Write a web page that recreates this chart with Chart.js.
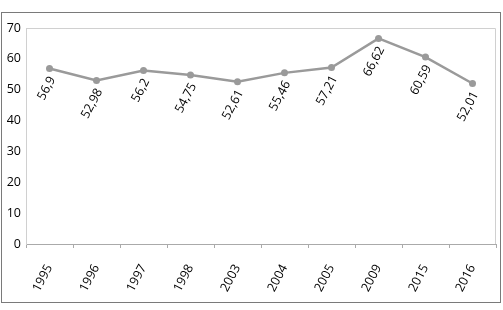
<!DOCTYPE html>
<html><head><meta charset="utf-8">
<script src="https://cdn.jsdelivr.net/npm/chart.js@4"></script>
<style>
html,body{margin:0;padding:0;background:#fff;}
#box{position:absolute;left:1px;top:12px;width:498px;height:289px;border:1px solid #7a7a7a;}
canvas{display:block;}
</style></head><body>
<div id="box"><canvas id="c" width="498" height="289"></canvas></div>
<script>
const years = ["1995","1996","1997","1998","2003","2004","2005","2009","2015","2016"];
const values = [56.9, 52.98, 56.2, 54.75, 52.61, 55.46, 57.21, 66.62, 60.59, 52.01];
const yTicks = [0, 10, 20, 30, 40, 50, 60, 70];

const FONT = "'Open Sans', sans-serif";
const ANGLE = 62;

const valueLabels = {
  id: 'valueLabels',
  afterDatasetsDraw(chart) {
    const ctx = chart.ctx;
    const meta = chart.getDatasetMeta(0);
    ctx.save();
    ctx.fillStyle = '#000';
    ctx.font = "12.5px " + FONT;
    ctx.textAlign = 'right';
    ctx.textBaseline = 'middle';
    meta.data.forEach((pt, i) => {
      const txt = String(values[i]).replace('.', ',');
      ctx.save();
      ctx.translate(pt.x + 3, pt.y + 9);
      ctx.rotate(-ANGLE * Math.PI / 180);
      ctx.fillText(txt, 0, 0);
      ctx.restore();
    });
    ctx.restore();
  }
};

new Chart(document.getElementById('c'), {
  type: 'line',
  data: {
    labels: years,
    datasets: [{
      data: values,
      borderColor: '#9a9a9a',
      backgroundColor: '#9a9a9a',
      borderWidth: 2.5,
      pointRadius: 3.5,
      pointBorderWidth: 0,
      pointBackgroundColor: '#9a9a9a',
      tension: 0,
      fill: false
    }]
  },
  options: {
    responsive: false,
    animation: false,
    devicePixelRatio: 1,
    layout: { padding: { top: 15, right: 4, left: 0, bottom: 0 } },
    plugins: { legend: { display: false }, tooltip: { enabled: false } },
    scales: {
      x: {
        offset: true,
        grid: { display: true, offset: true, drawOnChartArea: false, drawTicks: true, tickLength: 4, color: '#aaaaaa' },
        border: { display: true, color: '#aaaaaa', width: 1 },
        ticks: { color: '#000', font: { family: FONT, size: 12.5 }, maxRotation: ANGLE, minRotation: ANGLE, padding: 14, autoSkip: false },
        afterFit(s) { s.height = 58; }
      },
      y: {
        min: 0, max: 70,
        afterBuildTicks(s) { s.ticks = yTicks.map(v => ({ value: v })); },
        grid: { display: false, drawTicks: false },
        border: { display: true, color: '#d0d0d0', width: 1 },
        ticks: { color: '#000', font: { family: FONT, size: 12.5 }, padding: 5 },
        afterFit(s) { s.width = 24; }
      }
    }
  },
  plugins: [valueLabels, {
    id: 'frame',
    beforeDatasetsDraw(chart) {
      const { ctx, chartArea: a } = chart;
      ctx.save();
      ctx.strokeStyle = '#d0d0d0';
      ctx.lineWidth = 1;
      ctx.beginPath();
      ctx.moveTo(a.left + 0.5, a.top + 0.5);
      ctx.lineTo(a.right - 0.5, a.top + 0.5);
      ctx.lineTo(a.right - 0.5, a.bottom);
      ctx.stroke();
      ctx.restore();
    }
  }]
});
</script>
</body></html>
